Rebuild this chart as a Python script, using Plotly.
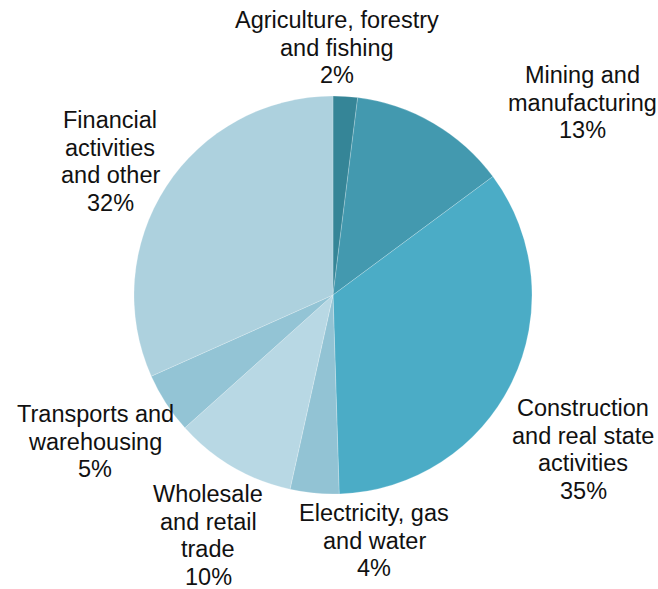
import plotly.graph_objects as go

# Share of output by sector (%)
sectors = [
    "Agriculture, forestry\nand fishing",
    "Mining and\nmanufacturing",
    "Construction\nand real state\nactivities",
    "Electricity, gas\nand water",
    "Wholesale\nand retail\ntrade",
    "Transports and\nwarehousing",
    "Financial\nactivities\nand other",
]
shares = [2, 13, 35, 4, 10, 5, 32]
colors = ["#358597", "#4399AF", "#4BACC6", "#92C3D4", "#B8D8E4", "#93C4D5", "#ADD1DE"]

W, H = 658, 589
cx, cy, r = 333, 295, 199  # pie centre and radius in pixels

# Pixel centre of the first text line for each label, plus line pitch
label_pos = [(337, 20), (582, 75), (583, 408), (374, 513), (208, 494), (95, 414), (110, 120)]
line_pitch = 27.5

fig = go.Figure(
    go.Pie(
        labels=[s.replace("\n", " ") for s in sectors],
        values=shares,
        sort=False,
        direction="clockwise",
        rotation=0,
        textinfo="none",
        hoverinfo="label+value",
        marker=dict(colors=colors, line=dict(color="rgba(255,255,255,0.35)", width=0.6)),
        domain=dict(x=[(cx - r) / W, (cx + r) / W], y=[(H - cy - r) / H, (H - cy + r) / H]),
        showlegend=False,
    )
)

annotations = []
for name, val, (px, py) in zip(sectors, shares, label_pos):
    lines = name.split("\n") + [f"{val}%"]
    for i, line in enumerate(lines):
        annotations.append(
            dict(
                text=line,
                x=px / W,
                y=1 - (py + i * line_pitch) / H,
                xref="paper",
                yref="paper",
                xanchor="center",
                yanchor="middle",
                showarrow=False,
                font=dict(family="Liberation Sans, Arial, sans-serif", size=23.5, color="#111111"),
            )
        )

fig.update_layout(
    width=W,
    height=H,
    margin=dict(l=0, r=0, t=0, b=0),
    paper_bgcolor="white",
    plot_bgcolor="white",
    annotations=annotations,
)

fig.write_html("out.html")
